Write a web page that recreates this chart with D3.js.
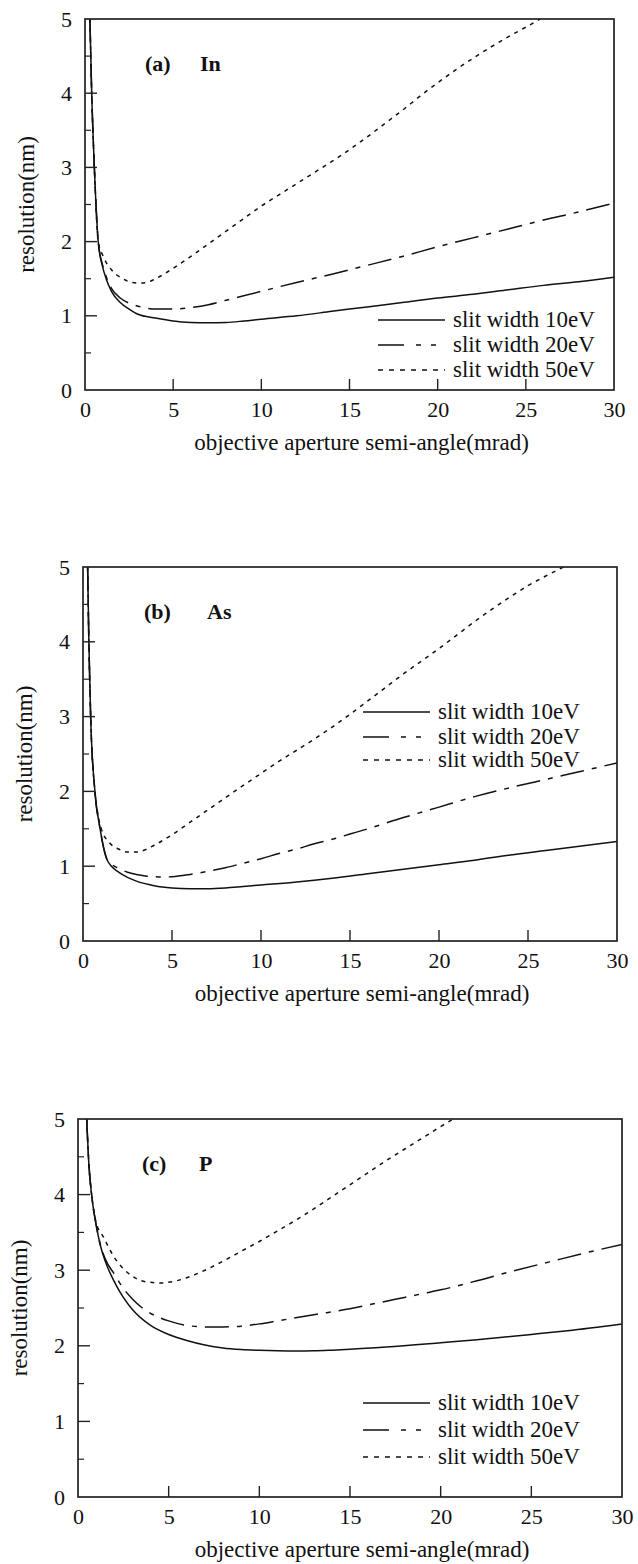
<!DOCTYPE html>
<html>
<head>
<meta charset="utf-8">
<script src="https://cdn.jsdelivr.net/npm/d3@7"></script>
<style>
  body { margin: 0; background: #fff; }
  text { font-family: "Liberation Serif", "Times New Roman", serif; fill: #111; }
</style>
</head>
<body>
<div id="chart"></div>
<script>
// tick values shared by the three panels
var xTicks = [0, 5, 10, 15, 20, 25, 30];
var yTicks = [0, 1, 2, 3, 4, 5];
var yMinor = [0.5, 1.5, 2.5, 3.5, 4.5];
var legendNames = ["slit width 10eV", "slit width 20eV", "slit width 50eV"];

// (a) In  - [angle mrad, resolution nm]
var in10 = [[0.28,5],[0.38,4],[0.53,3],[0.75,2],[1.0,1.66],[1.2,1.5],[1.5,1.33],[2,1.18],[2.5,1.09],[3,1.02],[4,0.97],[5,0.93],[6,0.91],[7,0.905],[8,0.91],[9,0.93],[10,0.955],[12,1.0],[14,1.06],[16,1.12],[18,1.18],[20,1.24],[22,1.29],[24,1.35],[26,1.41],[28,1.46],[30,1.52]];
var in20 = [[0.28,5],[0.38,4],[0.53,3],[0.75,2],[1.0,1.68],[1.2,1.53],[1.5,1.37],[2,1.24],[2.5,1.17],[3,1.13],[4,1.09],[5,1.09],[6,1.11],[7,1.15],[8,1.21],[9,1.27],[10,1.33],[12,1.45],[14,1.56],[16,1.68],[18,1.8],[20,1.93],[22,2.05],[24,2.17],[26,2.29],[28,2.4],[30,2.52]];
var in50 = [[0.28,5],[0.38,4],[0.53,3],[0.75,2],[1.0,1.82],[1.5,1.62],[2,1.52],[2.5,1.46],[3,1.44],[3.5,1.45],[4,1.5],[5,1.64],[6,1.8],[7,1.97],[8,2.14],[9,2.31],[10,2.48],[11,2.63],[12,2.78],[13,2.93],[14,3.08],[15,3.24],[16,3.41],[17,3.59],[18,3.77],[19,3.96],[20,4.14],[21,4.31],[22,4.47],[23,4.62],[24,4.76],[25,4.89],[25.8,5]];

// (b) As
var as10 = [[0.26,5],[0.33,4],[0.43,3],[0.67,2],[0.96,1.5],[1.33,1.1],[1.6,1.0],[2,0.92],[2.5,0.85],[3,0.8],[4,0.74],[5,0.71],[6,0.7],[7,0.7],[8,0.71],[9,0.73],[10,0.75],[12,0.79],[14,0.84],[16,0.9],[18,0.96],[20,1.02],[22,1.08],[24,1.15],[26,1.21],[28,1.27],[30,1.33]];
var as20 = [[0.26,5],[0.33,4],[0.43,3],[0.67,2],[0.96,1.5],[1.3,1.12],[1.6,1.03],[2,0.97],[2.5,0.92],[3,0.89],[3.5,0.87],[4,0.86],[4.5,0.855],[5,0.86],[6,0.89],[7,0.93],[8,0.98],[9,1.04],[10,1.1],[11,1.17],[12,1.23],[13,1.3],[14,1.36],[15,1.43],[16,1.5],[18,1.65],[20,1.79],[22,1.93],[24,2.05],[26,2.16],[28,2.27],[30,2.38]];
var as50 = [[0.26,5],[0.33,4],[0.43,3],[0.67,2],[0.8,1.75],[1,1.52],[1.5,1.31],[2,1.23],[2.5,1.19],[3,1.19],[3.5,1.22],[4,1.28],[5,1.42],[6,1.585],[7,1.75],[8,1.915],[9,2.08],[10,2.24],[11,2.4],[12,2.55],[13,2.7],[14,2.86],[15,3.03],[16,3.21],[17,3.39],[18,3.57],[19,3.74],[20,3.91],[21,4.09],[22,4.27],[23,4.44],[24,4.6],[25,4.75],[26,4.88],[27,5]];

// (c) P
var p10 = [[0.48,5],[0.6,4.4],[0.75,4.0],[1,3.6],[1.2,3.36],[1.5,3.12],[2,2.85],[2.5,2.64],[3,2.48],[4,2.27],[5,2.15],[6,2.07],[7,2.01],[8,1.97],[9,1.95],[10,1.94],[11,1.933],[12,1.93],[13,1.933],[14,1.942],[15,1.953],[17,1.983],[20,2.04],[22,2.08],[25,2.15],[27,2.2],[30,2.29]];
var p20 = [[0.48,5],[0.6,4.4],[0.75,4.0],[1,3.6],[1.2,3.37],[1.5,3.15],[2,2.95],[2.5,2.76],[3,2.62],[3.5,2.51],[4,2.43],[5,2.33],[6,2.27],[7,2.25],[8,2.25],[9,2.26],[10,2.29],[11,2.33],[12,2.37],[13,2.41],[14,2.45],[15,2.49],[16,2.54],[17,2.59],[18,2.64],[19,2.69],[20,2.74],[22,2.86],[24,2.99],[26,3.11],[28,3.23],[30,3.34]];
var p50 = [[0.48,5],[0.6,4.4],[0.75,4.0],[1,3.63],[1.4,3.44],[2,3.17],[2.5,3.02],[3,2.92],[3.5,2.86],[4,2.84],[4.5,2.83],[5,2.84],[6,2.9],[7,3.0],[8,3.12],[9,3.25],[10,3.38],[11,3.52],[12,3.66],[13,3.81],[14,3.97],[15,4.13],[16,4.29],[17,4.45],[18,4.6],[19,4.75],[20,4.9],[20.7,5]];

var dashes = [null, "24,8,5,8", "4,5"];
var legendDash = [null, "26,12,5,10,5", "5,6"];

var W = 638, H = 1564;

// per panel frame, legend placement, tag position
var panels = [
  { tag: "(a)", elem: "In", series: [in10, in20, in50],
    l: 85, r: 614, t: 19, b: 390, legX: 378, legRows: [320, 345, 370], tagX: 145, elemX: 200 },
  { tag: "(b)", elem: "As", series: [as10, as20, as50],
    l: 83, r: 617, t: 567, b: 941, legX: 363, legRows: [712, 737, 760], tagX: 144, elemX: 207 },
  { tag: "(c)", elem: "P", series: [p10, p20, p50],
    l: 78, r: 622, t: 1119, b: 1497, legX: 363, legRows: [1403, 1430, 1457], tagX: 142, elemX: 199 }
];

var svg = d3.select("#chart").append("svg")
  .attr("width", W)
  .attr("height", H);

svg.append("rect").attr("width", W).attr("height", H).attr("fill", "#fff");

panels.forEach(function(p, i) {
  var x = d3.scaleLinear().domain([0, 30]).range([p.l, p.r]);
  var y = d3.scaleLinear().domain([0, 5]).range([p.b, p.t]);
  var g = svg.append("g");

  g.append("clipPath").attr("id", "clip" + i)
    .append("rect")
    .attr("x", p.l).attr("y", p.t)
    .attr("width", p.r - p.l).attr("height", p.b - p.t);

  // curves
  var line = d3.line()
    .x(function(d) { return x(d[0]); })
    .y(function(d) { return y(d[1]); })
    .curve(d3.curveMonotoneX);

  p.series.forEach(function(s, k) {
    g.append("path")
      .attr("d", line(s))
      .attr("clip-path", "url(#clip" + i + ")")
      .attr("fill", "none")
      .attr("stroke", "#111")
      .attr("stroke-width", 1.5)
      .attr("stroke-dasharray", dashes[k]);
  });

  // frame
  g.append("rect")
    .attr("x", p.l).attr("y", p.t)
    .attr("width", p.r - p.l).attr("height", p.b - p.t)
    .attr("fill", "none").attr("stroke", "#222").attr("stroke-width", 1.7);

  // bottom axis, ticks pointing inward
  var xAxis = d3.axisBottom(x).tickValues(xTicks).tickSize(0).tickPadding(27).tickFormat(d3.format("d"));
  var xg = g.append("g").attr("transform", "translate(0," + p.b + ")").call(xAxis);
  xg.select(".domain").remove();
  xg.selectAll("text").attr("font-size", 22).attr("dy", 0);

  g.selectAll(".xt").data(xTicks.slice(1, -1)).enter().append("line")
    .attr("x1", function(d) { return x(d); }).attr("x2", function(d) { return x(d); })
    .attr("y1", p.b).attr("y2", p.b - 11)
    .attr("stroke", "#222").attr("stroke-width", 1.4);

  // left axis
  var yAxis = d3.axisLeft(y).tickValues(yTicks).tickSize(0).tickPadding(13).tickFormat(d3.format("d"));
  var yg = g.append("g").attr("transform", "translate(" + p.l + ",0)").call(yAxis);
  yg.select(".domain").remove();
  yg.selectAll("text").attr("font-size", 22);

  g.selectAll(".yt").data(yTicks.slice(1, -1)).enter().append("line")
    .attr("x1", p.l).attr("x2", p.l + 12)
    .attr("y1", function(d) { return y(d); }).attr("y2", function(d) { return y(d); })
    .attr("stroke", "#222").attr("stroke-width", 1.4);
  g.selectAll(".ym").data(yMinor).enter().append("line")
    .attr("x1", p.l).attr("x2", p.l + 6)
    .attr("y1", function(d) { return y(d); }).attr("y2", function(d) { return y(d); })
    .attr("stroke", "#222").attr("stroke-width", 1.2);

  // axis titles
  g.append("text")
    .attr("x", (p.l + p.r) / 2 + 12).attr("y", p.b + 60)
    .attr("text-anchor", "middle").attr("font-size", 23)
    .text("objective aperture semi-angle(mrad)");

  g.append("text")
    .attr("transform", "translate(" + (p.l - 51) + "," + ((p.t + p.b) / 2) + ") rotate(-90)")
    .attr("text-anchor", "middle").attr("font-size", 23)
    .text("resolution(nm)");

  // panel tag
  g.append("text").attr("x", p.tagX).attr("y", p.t + 52)
    .attr("font-size", 22).attr("font-weight", "bold").text(p.tag);
  g.append("text").attr("x", p.elemX).attr("y", p.t + 52)
    .attr("font-size", 22).attr("font-weight", "bold").text(p.elem);

  // legend
  legendNames.forEach(function(name, k) {
    var ry = p.legRows[k];
    g.append("line")
      .attr("x1", p.legX).attr("x2", p.legX + 67)
      .attr("y1", ry).attr("y2", ry)
      .attr("stroke", "#111").attr("stroke-width", 1.4)
      .attr("stroke-dasharray", legendDash[k]);
    g.append("text")
      .attr("x", p.legX + 75).attr("y", ry + 7)
      .attr("font-size", 23).text(name);
  });
});
</script>
</body>
</html>
